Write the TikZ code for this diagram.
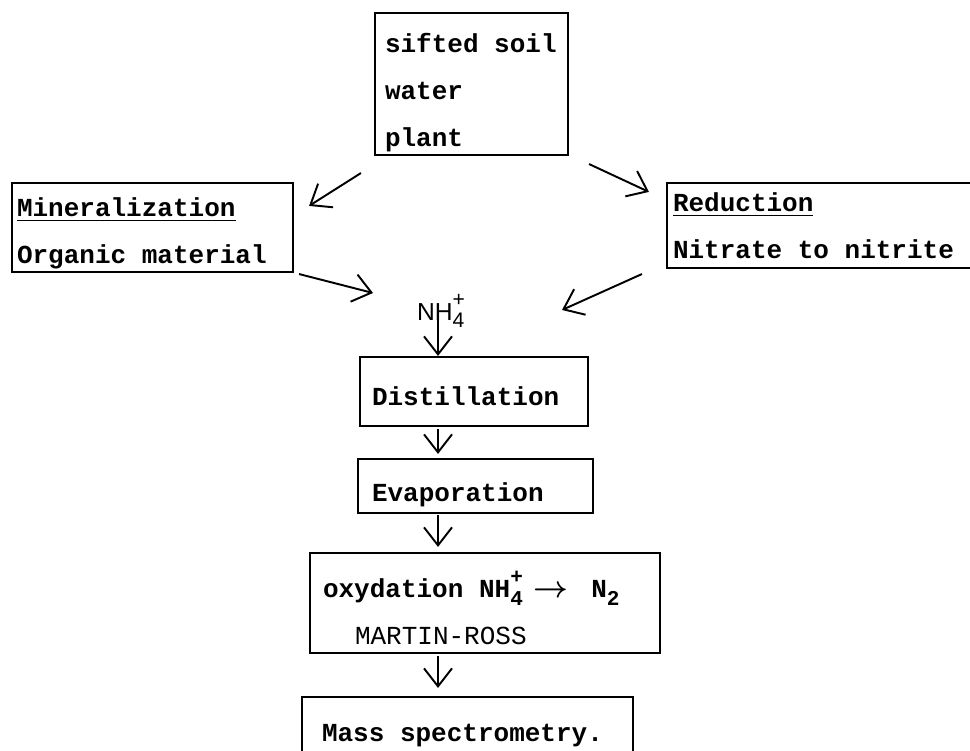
\documentclass[tikz,border=0pt]{standalone}
\usepackage{amsmath,amsbsy}
\usepackage{fontspec}
\setmonofont{Liberation Mono}
\newfontfamily\labelfont{Liberation Sans}
\usetikzlibrary{arrows.meta}

\newcommand{\ionfour}{\rlap{\raisebox{-0.55ex}{\fontsize{12}{12}\selectfont 4}}\raisebox{1.05ex}{\fontsize{12}{12}\selectfont +}}
\newcommand{\subtwo}{\raisebox{-0.55ex}{\fontsize{12}{12}\selectfont 2}}
\newcommand{\yields}{{\fontsize{17}{17}\selectfont$\boldsymbol{\rightarrow}$}}

\tikzset{
  stagebox/.style={draw, line width=1.2pt, align=flush left, inner ysep=0pt,
    font=\ttfamily\bfseries\fontsize{14.8}{26.7}\selectfont},
  textdrop/.style={execute at begin node={\rule{0pt}{#1}}},
  flow/.style={-{Straight Barb[length=3.6mm,width=5.6mm]}, line width=1.1pt},
}

\begin{document}
\begin{tikzpicture}
    \useasboundingbox (0,0) rectangle (19.4,15.02);
    \clip (0,0) rectangle (19.4,15.02);
    % boxes
    \node[stagebox, textdrop=21pt, inner xsep=0.2cm, text width=3.46cm, minimum height=2.84cm] (sample) at (9.43,13.34) {sifted soil\\water\\plant};
    \node[stagebox, textdrop=17.8pt, inner xsep=0.1cm, text width=5.42cm, minimum height=1.78cm] (minl) at (3.05,10.47) {\underline{Mineralization}\\Organic material};
    \node[stagebox, inner xsep=0.12cm, text width=6.12cm, minimum height=1.7cm] (reduc) at (16.52,10.51) {\underline{Reduction}\\Nitrate to nitrite};
    \node[font=\labelfont\fontsize{14}{16}\selectfont, inner sep=1pt] (nh) at (8.82,8.80) {NH\ionfour};
    \node[stagebox, textdrop=16pt, inner xsep=0.24cm, text width=4.08cm, minimum height=1.38cm] (dist) at (9.48,7.19) {Distillation};
    \node[stagebox, textdrop=21pt, inner xsep=0.28cm, text width=4.14cm, minimum height=1.08cm] (evap) at (9.51,5.30) {Evaporation};
    \node[stagebox, textdrop=21pt, inner xsep=0.26cm, text width=6.48cm, minimum height=2.0cm] (oxyd) at (9.70,2.96) {oxydation NH\ionfour\hspace{0.22cm}\yields\hspace{0.45cm}N\subtwo\\\hspace*{0.64cm}{\mdseries MARTIN-ROSS}};
    \node[stagebox, inner xsep=0.4cm, text width=5.82cm, minimum height=1.56cm] (mass) at (9.35,0.30) {Mass spectrometry.};
    % connectors
    \draw[flow] ([xshift=-0.26cm,yshift=-0.34cm]sample.south west) -- ([xshift=0.3cm,yshift=-0.48cm]minl.north east);
    \draw[flow] ([xshift=0.4cm,yshift=-0.16cm]sample.south east) -- ([xshift=-0.34cm,yshift=-0.2cm]reduc.north west);
    \draw[flow] ([xshift=0.1cm,yshift=-0.02cm]minl.south east) -- ([xshift=-1.36cm,yshift=0.36cm]nh.center);
    \draw[flow] ([xshift=-0.48cm,yshift=-0.1cm]reduc.south west) -- ([xshift=2.42cm,yshift=0.02cm]nh.center);
    \draw[flow] ([xshift=-0.06cm,yshift=-0.1cm]nh.center) -- ([xshift=-0.06cm]nh.center |- dist.north);
    \draw[flow, shorten >=0.08cm] ([xshift=-0.06cm,yshift=-0.04cm]dist.south -| nh.center) -- ([xshift=-0.06cm]evap.north -| nh.center);
    \draw[flow, shorten >=0.1cm] ([xshift=-0.06cm,yshift=-0.02cm]evap.south -| nh.center) -- ([xshift=-0.06cm]oxyd.north -| nh.center);
    \draw[flow, shorten >=0.16cm] ([xshift=-0.06cm,yshift=-0.04cm]oxyd.south -| nh.center) -- ([xshift=-0.06cm]mass.north -| nh.center);
\end{tikzpicture}
\end{document}
